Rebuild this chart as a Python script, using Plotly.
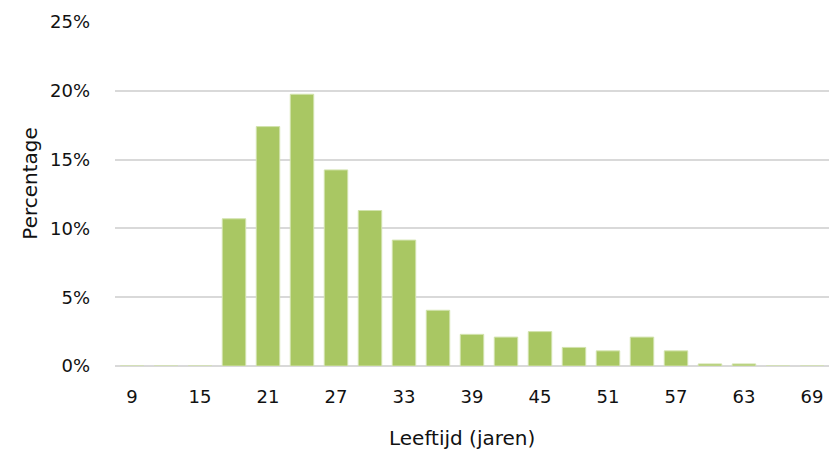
import plotly.graph_objects as go

# Leeftijdsverdeling in klassen van 3 jaar
ages = [9, 12, 15, 18, 21, 24, 27, 30, 33, 36, 39, 42, 45, 48, 51, 54, 57, 60, 63, 66, 69]
percentages = [0, 0, 0, 10.7, 17.4, 19.75, 14.25, 11.3, 9.15, 4.05, 2.3, 2.1, 2.5,
               1.35, 1.1, 2.1, 1.1, 0.15, 0.15, 0, 0]
tick_ages = [9, 15, 21, 27, 33, 39, 45, 51, 57, 63, 69]
y_ticks = [0, 5, 10, 15, 20, 25]
y_tick_labels = [f"{v}%" for v in y_ticks]

FONT = "DejaVu Sans"
TEXT = "#111111"

fig = go.Figure(
    go.Bar(
        x=[str(a) for a in ages],
        y=percentages,
        marker=dict(color="#a9c763", line=dict(color="#d2e3ad", width=1)),
        hoverinfo="x+y",
    )
)

fig.update_layout(
    width=834,
    height=449,
    margin=dict(l=115, r=5, t=22, b=83),
    paper_bgcolor="white",
    plot_bgcolor="white",
    bargap=0.31,
    showlegend=False,
    font=dict(family=FONT, size=18, color=TEXT),
    xaxis=dict(
        type="category",
        tickmode="array",
        tickvals=[str(a) for a in tick_ages],
        ticktext=[str(a) for a in tick_ages],
        showgrid=False,
        showline=False,
        ticks="",
        ticklabelstandoff=18,
        tickfont=dict(family=FONT, size=18, color=TEXT),
    ),
    yaxis=dict(
        range=[0, 25],
        tickmode="array",
        tickvals=y_ticks,
        ticktext=y_tick_labels,
        showgrid=True,
        gridcolor="#d9d9d9",
        gridwidth=2,
        zeroline=True,
        zerolinecolor="#d9d9d9",
        zerolinewidth=2,
        showline=False,
        ticks="",
        ticklabelstandoff=24,
        tickfont=dict(family=FONT, size=18, color=TEXT),
    ),
    annotations=[
        dict(
            text="Percentage",
            xref="paper", yref="paper",
            x=-0.119, y=0.53,
            xanchor="center", yanchor="middle",
            textangle=-90, showarrow=False,
            font=dict(family=FONT, size=20, color=TEXT),
        ),
        dict(
            text="Leeftijd (jaren)",
            xref="paper", yref="paper",
            x=0.486, y=-0.21,
            xanchor="center", yanchor="middle",
            showarrow=False,
            font=dict(family=FONT, size=20, color=TEXT),
        ),
    ],
)

fig.write_html("out.html")
